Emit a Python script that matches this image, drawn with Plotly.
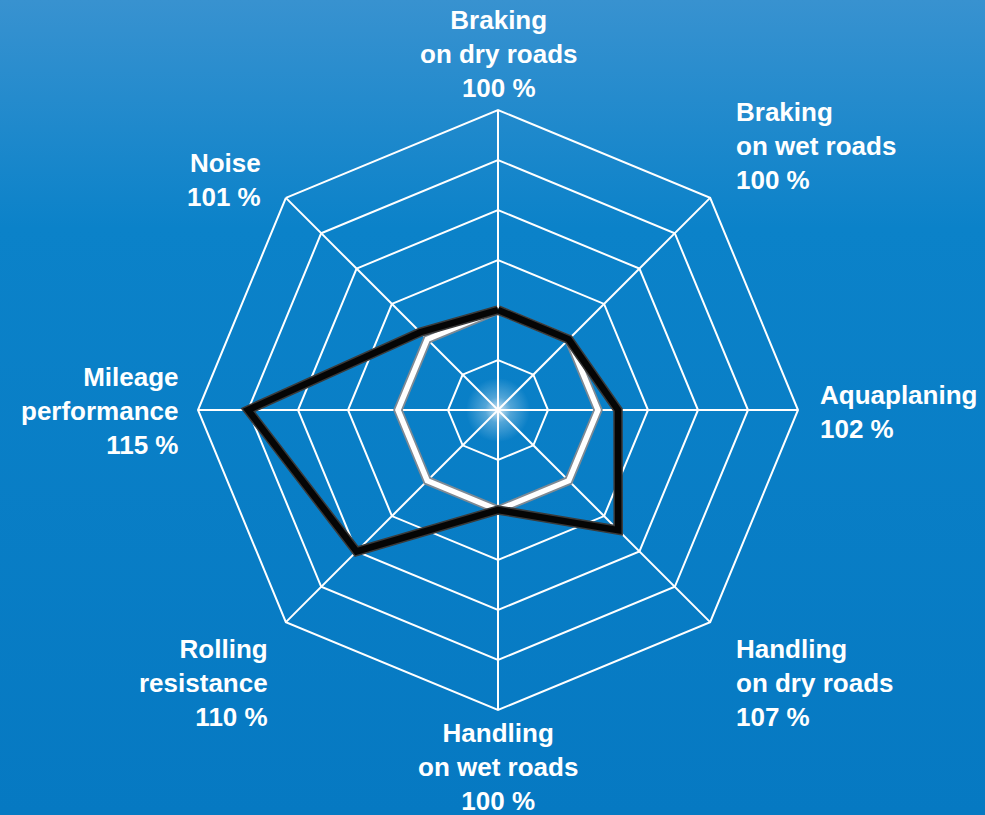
import base64
import plotly.graph_objects as go

# ---- data ----
categories = ["Braking<br>on dry roads", "Braking<br>on wet roads", "Aquaplaning",
              "Handling<br>on dry roads", "Handling<br>on wet roads", "Rolling<br>resistance",
              "Mileage<br>performance", "Noise"]
values = [100, 100, 102, 107, 100, 110, 115, 101]
reference = [100, 100, 100, 100, 100, 100, 100, 100]
ring_vals = [95, 100, 105, 110, 115, 120]

W, H = 985, 815
CX, CY, R = 498, 410, 300

# label placement (pixel positions, anchors)
label_pos = [
    (498, 54, "center"), (734, 146, "left"), (818, 412, "left"),
    (734, 683, "left"), (498, 767, "center"), (270, 683, "right"),
    (181, 411, "right"), (263, 180, "right"),
]

svg = f"""<svg xmlns='http://www.w3.org/2000/svg' width='{W}' height='{H}'>
<defs>
<linearGradient id='g' x1='0' y1='0' x2='0' y2='1'>
<stop offset='0' stop-color='#3892d0'/>
<stop offset='0.28' stop-color='#0b82c9'/>
<stop offset='1' stop-color='#0679c2'/>
</linearGradient>
<radialGradient id='r' cx='{CX}' cy='{CY}' r='32' gradientUnits='userSpaceOnUse'>
<stop offset='0' stop-color='white' stop-opacity='0.8'/>
<stop offset='0.4' stop-color='white' stop-opacity='0.3'/>
<stop offset='1' stop-color='white' stop-opacity='0'/>
</radialGradient>
</defs>
<rect width='{W}' height='{H}' fill='url(#g)'/>
<circle cx='{CX}' cy='{CY}' r='32' fill='url(#r)'/>
</svg>"""
bg_uri = "data:image/svg+xml;base64," + base64.b64encode(svg.encode()).decode()

theta = categories + [categories[0]]
fig = go.Figure()
# reference polygon (white tube with grey edge)
fig.add_trace(go.Scatterpolar(r=reference + [reference[0]], theta=theta, mode="lines",
                              line=dict(color="#7f8a94", width=9), hoverinfo="skip"))
fig.add_trace(go.Scatterpolar(r=reference + [reference[0]], theta=theta, mode="lines",
                              line=dict(color="white", width=5.5), hoverinfo="skip"))
# product polygon (black tube)
fig.add_trace(go.Scatterpolar(r=values + [values[0]], theta=theta, mode="lines",
                              line=dict(color="#3a3a3a", width=9.5), hoverinfo="skip"))
fig.add_trace(go.Scatterpolar(r=values + [values[0]], theta=theta, mode="lines",
                              line=dict(color="#050505", width=6.5), hoverinfo="skip"))

annotations = []
for name, val, (px, py, al) in zip(categories, values, label_pos):
    annotations.append(dict(
        text=f"{name}<br>{val} %", x=px / W, y=1 - py / H, xref="paper", yref="paper",
        xanchor=al, yanchor="middle", align=al, showarrow=False,
        font=dict(family="Liberation Sans, Arial, sans-serif", size=26, color="white",
                  weight="bold")))

fig.update_layout(
    width=W, height=H, margin=dict(l=0, r=0, t=0, b=0),
    paper_bgcolor="#0679c2", showlegend=False,
    images=[dict(source=bg_uri, xref="paper", yref="paper", x=0, y=1, sizex=1, sizey=1,
                 sizing="stretch", xanchor="left", yanchor="top", layer="below")],
    polar=dict(
        domain=dict(x=[(CX - R) / W, (CX + R) / W], y=[(H - CY - R) / H, (H - CY + R) / H]),
        bgcolor="rgba(0,0,0,0)", gridshape="linear",
        radialaxis=dict(range=[90, 120], tickvals=ring_vals, showticklabels=False, ticks="",
                        showline=False, gridcolor="white", gridwidth=2),
        angularaxis=dict(rotation=90, direction="clockwise", showticklabels=False, ticks="",
                         gridcolor="white", gridwidth=2, linecolor="white", linewidth=2),
    ),
    annotations=annotations,
)
fig.write_html("out.html", config={"displayModeBar": False})

# remove the browser's default page margin so the chart fills the window
with open("out.html", encoding="utf-8") as f:
    html = f.read()
html = html.replace("<head>", "<head><style>html,body{margin:0;padding:0;overflow:hidden;}</style>", 1)
with open("out.html", "w", encoding="utf-8") as f:
    f.write(html)
